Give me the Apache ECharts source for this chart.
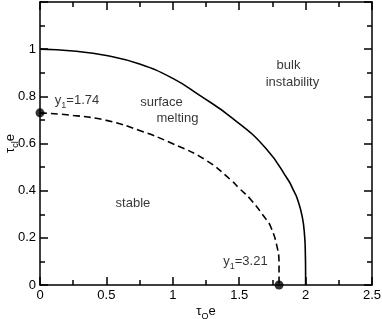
<!DOCTYPE html>
<html><head><meta charset="utf-8">
<script src="https://cdn.jsdelivr.net/npm/echarts@6/dist/echarts.min.js"></script>
<style>html,body{margin:0;padding:0;background:#fff}#c{width:382px;height:319px}</style>
</head><body><div id="c"></div>
<script>
// ---- data ----
const xTicks = [0, 0.5, 1, 1.5, 2, 2.5];
const yTicks = [0, 0.2, 0.4, 0.6, 0.8, 1];
// solid curve: bulk instability boundary
const bulkX = [0, 0.25, 0.5, 0.75, 1.0, 1.2, 1.45, 1.7, 1.87, 1.91, 1.935, 1.975, 1.993, 1.998, 2.0, 2.0];
const bulkY = [1.0, 0.992, 0.973, 0.937, 0.876, 0.805, 0.707, 0.58, 0.444, 0.40, 0.37, 0.289, 0.204, 0.135, 0.05, 0];
// dashed curve: surface melting boundary
const surfX = [0, 0.25, 0.5, 0.75, 1.0, 1.25, 1.44, 1.5, 1.58, 1.707, 1.735, 1.782, 1.80, 1.80];
const surfY = [0.730, 0.719, 0.698, 0.655, 0.599, 0.529, 0.444, 0.41, 0.367, 0.275, 0.25, 0.17, 0.085, 0];
// marked endpoints
const dotX = [0, 1.80];
const dotY = [0.730, 0];
// annotation texts
const labelTexts = ['bulk', 'instability', 'surface', 'melting', 'stable', '{m|y}{s|1}{m|=1.74}', '{m|y}{s|1}{m|=3.21}'];
const labelX = [1.871, 1.901, 0.915, 1.035, 0.700, 0.279, 1.547];
const labelY = [0.930, 0.858, 0.774, 0.706, 0.347, 0.775, 0.095];

const zip = (a, b) => a.map((v, i) => [v, b[i]]);
const font = 'Liberation Sans, Arial, Helvetica, sans-serif';
const rich = {
  m: {fontSize: 13, verticalAlign: 'top', color: '#000', fontFamily: font},
  s: {fontSize: 9, verticalAlign: 'top', padding: [7, 0, 0, 0], color: '#000', fontFamily: font}
};

const chart = echarts.init(document.getElementById('c'), null, {renderer: 'canvas'});
const lineAx = {lineStyle: {color: '#000', width: 1.5}, onZero: false};
const tick = {inside: true, length: 8, lineStyle: {color: '#000', width: 1.5}};
const minor = {show: true, splitNumber: 2, length: 5, lineStyle: {color: '#000', width: 1.5}};
chart.setOption({
  animation: false,
  backgroundColor: '#fff',
  grid: {left: 40, right: 10, top: 2, bottom: 34, containLabel: false, outerBoundsMode: 'none'},
  xAxis: [{
    type: 'value', min: 0, max: 2.5, interval: 0.5, position: 'bottom',
    axisLine: lineAx, axisTick: tick, minorTick: minor, splitLine: {show: false},
    axisLabel: {color: '#000', fontSize: 13, fontFamily: font, margin: 4, formatter: v => String(v)},
    name: '{m|τ}{s|Q}{m|e}', nameLocation: 'middle', nameGap: 20, nameMoveOverlap: false,
    nameTextStyle: {rich: rich}
  }, {
    type: 'value', min: 0, max: 2.5, interval: 0.5, position: 'top',
    axisLine: lineAx, axisTick: tick, minorTick: minor,
    splitLine: {show: false}, axisLabel: {show: false}
  }],
  yAxis: [{
    type: 'value', min: 0, max: 1.2, interval: 0.2, position: 'left',
    axisLine: lineAx, axisTick: tick, minorTick: minor, splitLine: {show: false},
    axisLabel: {color: '#000', fontSize: 13, fontFamily: font, margin: 4,
      formatter: v => (yTicks.some(t => Math.abs(t - v) < 1e-9) ? String(+v.toFixed(1)) : '')},
    name: '{m|τ}{s|cl}{m|e}', nameLocation: 'middle', nameGap: 20, nameRotate: 90, nameMoveOverlap: false,
    nameTextStyle: {rich: rich}
  }, {
    type: 'value', min: 0, max: 1.2, interval: 0.2, position: 'right',
    axisLine: lineAx, axisTick: tick, minorTick: minor,
    splitLine: {show: false}, axisLabel: {show: false}
  }],
  series: [{
    type: 'line', data: zip(bulkX, bulkY), showSymbol: false, symbol: 'none', smooth: 0.5,
    lineStyle: {color: '#000', width: 1.6}, silent: true
  }, {
    type: 'line', data: zip(surfX, surfY), showSymbol: false, symbol: 'none', smooth: 0.5,
    lineStyle: {color: '#000', width: 1.6, type: [7, 4]}, silent: true
  }, {
    type: 'scatter', data: zip(dotX, dotY), symbol: 'circle', symbolSize: 9,
    itemStyle: {color: '#000'}, silent: true, clip: false, z: 5
  }, {
    type: 'scatter', symbolSize: 0, silent: true,
    data: labelTexts.map((t, i) => ({value: [labelX[i], labelY[i]], name: t})),
    label: {show: true, position: 'inside', formatter: p => p.name.indexOf('{') >= 0 ? p.name : '{m|' + p.name + '}', rich: rich}
  }]
});
</script></body></html>
